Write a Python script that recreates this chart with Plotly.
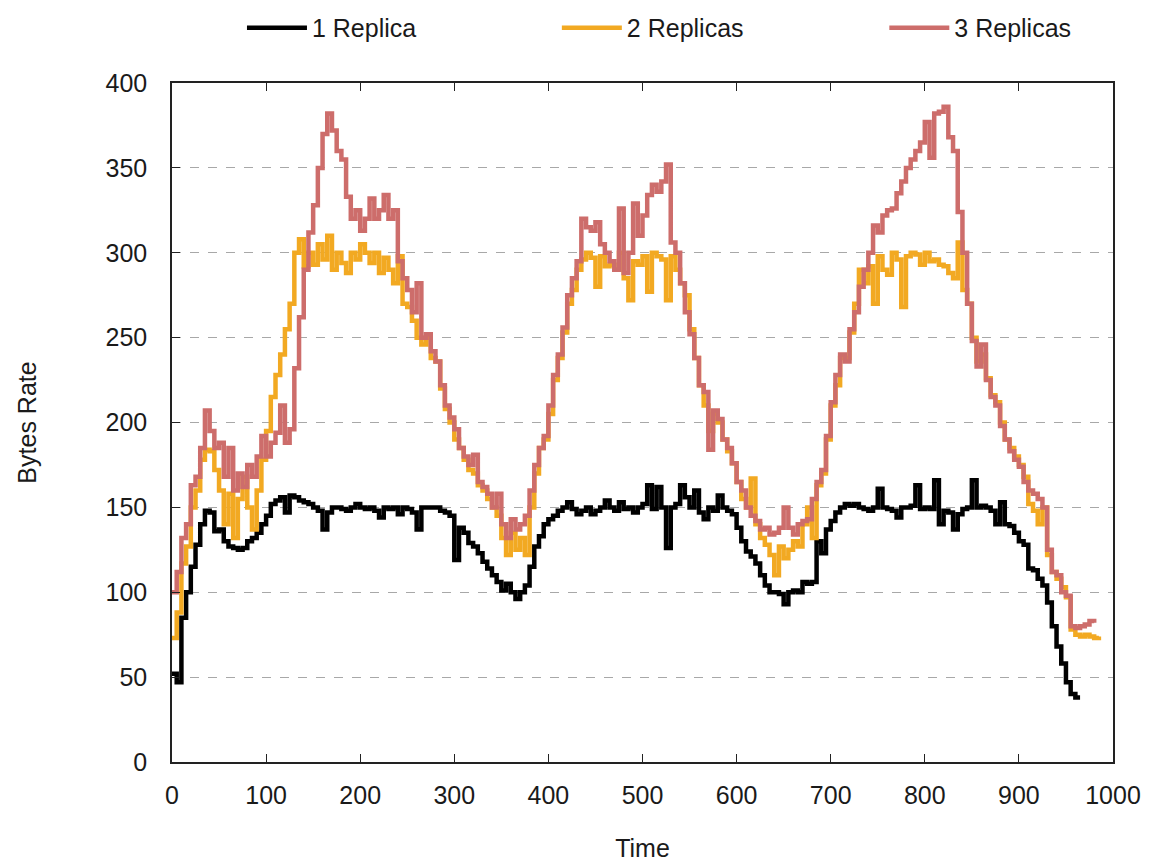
import plotly.graph_objects as go

step = 5
time_1 = list(range(0, 966, step))
replica_1 = [52, 47, 85, 100, 115, 128, 140, 148, 147, 136, 137, 130, 127, 126, 125, 126, 130, 132, 135, 140,
             145, 152, 154, 156, 147, 157, 156, 154, 153, 152, 150, 148, 137, 147, 150, 150, 149, 148, 150, 152,
             150, 149, 150, 148, 144, 150, 149, 150, 146, 150, 149, 147, 137, 150, 150, 150, 150, 148, 147, 145,
             119, 138, 135, 129, 127, 123, 118, 114, 110, 106, 101, 105, 100, 96, 100, 104, 115, 127, 133, 140,
             143, 145, 148, 150, 153, 149, 146, 148, 150, 146, 148, 150, 154, 150, 148, 153, 149, 150, 147, 150,
             152, 163, 149, 162, 150, 126, 150, 152, 163, 156, 150, 160, 147, 143, 150, 148, 157, 150, 148, 146,
             138, 130, 124, 121, 117, 110, 104, 100, 100, 99, 93, 100, 101, 100, 106, 105, 106, 130, 123, 137,
             142, 147, 150, 152, 151, 152, 150, 149, 148, 150, 161, 150, 149, 148, 144, 150, 150, 151, 163, 149,
             150, 149, 166, 140, 148, 147, 137, 146, 149, 150, 166, 150, 151, 150, 148, 140, 153, 140, 139, 135,
             130, 128, 114, 113, 108, 104, 94, 80, 68, 58, 47, 40, 38, 38]

time_2 = list(range(0, 986, step))
replica_2 = [73, 88, 117, 127, 150, 160, 178, 184, 183, 172, 160, 140, 158, 132, 155, 168, 150, 137, 160, 178,
             195, 215, 228, 240, 255, 270, 300, 308, 292, 300, 293, 305, 296, 310, 290, 300, 294, 288, 300, 296,
             305, 300, 294, 300, 288, 297, 290, 282, 298, 270, 268, 260, 250, 246, 250, 238, 236, 220, 208, 200,
             190, 185, 178, 172, 170, 163, 160, 155, 150, 145, 132, 122, 135, 125, 132, 122, 150, 170, 185, 190,
             205, 225, 238, 253, 270, 278, 290, 296, 300, 297, 280, 298, 292, 293, 290, 300, 285, 272, 295, 293,
             298, 277, 300, 298, 296, 272, 298, 290, 282, 275, 255, 238, 222, 210, 195, 205, 200, 190, 183, 176,
             165, 155, 150, 167, 140, 132, 128, 122, 110, 127, 120, 125, 130, 127, 140, 150, 132, 163, 170, 190,
             210, 222, 238, 238, 253, 270, 290, 282, 292, 270, 298, 290, 287, 300, 296, 268, 298, 300, 299, 293,
             300, 295, 296, 293, 292, 288, 285, 306, 278, 270, 250, 236, 240, 226, 216, 212, 200, 190, 185, 180,
             175, 168, 152, 148, 140, 150, 122, 112, 108, 103, 97, 78, 75, 74, 75, 74, 73, 74]

time_3 = list(range(0, 981, step))
replica_3 = [100, 112, 132, 140, 163, 168, 185, 207, 195, 185, 188, 168, 185, 160, 170, 162, 175, 168, 180, 192,
             180, 188, 194, 210, 188, 196, 232, 262, 290, 312, 328, 350, 370, 382, 372, 360, 355, 333, 320, 325,
             313, 320, 332, 320, 325, 334, 320, 325, 295, 285, 278, 265, 282, 250, 252, 242, 236, 222, 210, 203,
             196, 185, 180, 175, 181, 165, 162, 158, 150, 158, 140, 132, 143, 137, 140, 145, 160, 175, 185, 192,
             210, 228, 240, 256, 275, 285, 295, 320, 315, 313, 318, 305, 300, 295, 290, 326, 288, 300, 329, 310,
             322, 334, 340, 336, 342, 352, 306, 300, 282, 265, 252, 238, 222, 218, 184, 207, 202, 190, 185, 176,
             165, 160, 150, 145, 142, 137, 138, 134, 135, 138, 150, 138, 134, 140, 142, 143, 155, 165, 172, 192,
             212, 228, 240, 236, 255, 265, 280, 290, 300, 316, 312, 322, 325, 326, 335, 342, 350, 355, 360, 365,
             377, 356, 382, 383, 386, 368, 360, 324, 300, 270, 248, 233, 246, 225, 215, 210, 198, 190, 183, 178,
             174, 165, 160, 158, 155, 150, 125, 112, 110, 100, 98, 80, 79, 80, 81, 83, 82]

x_ticks = [0, 100, 200, 300, 400, 500, 600, 700, 800, 900, 1000]
y_ticks = [0, 50, 100, 150, 200, 250, 300, 350, 400]

FONT = "Liberation Sans, Arial, sans-serif"
FS = 25

fig = go.Figure()
fig.add_trace(go.Scatter(x=time_1, y=replica_1, name="1 Replica", mode="lines", legend="legend",
                         line=dict(color="#000000", width=4.5, shape="hv")))
fig.add_trace(go.Scatter(x=time_2, y=replica_2, name="2 Replicas", mode="lines", legend="legend2",
                         line=dict(color="#f2a922", width=4.5, shape="hv")))
fig.add_trace(go.Scatter(x=time_3, y=replica_3, name="3 Replicas", mode="lines", legend="legend3",
                         line=dict(color="#cd6d6b", width=4.5, shape="hv")))

leg_common = dict(orientation="h", xanchor="center", y=0.977, yanchor="middle", yref="container",
                  font=dict(size=FS), itemwidth=60, bgcolor="rgba(0,0,0,0)")

fig.update_layout(
    width=1158, height=868,
    paper_bgcolor="white", plot_bgcolor="white",
    margin=dict(l=164, r=53, t=75, b=114),
    font=dict(family=FONT, size=FS, color="#1a1a1a"),
    legend=dict(x=0.17, **leg_common),
    legend2=dict(x=0.511, **leg_common),
    legend3=dict(x=0.859, **leg_common),
    showlegend=True,
)
fig.update_xaxes(range=[0, 1000], tickvals=x_ticks, showgrid=False, zeroline=False,
                 showline=True, linecolor="#222", linewidth=1.5, mirror="ticks",
                 ticks="inside", ticklen=8, tickcolor="#222", ticklabelstandoff=10,
                 automargin=False,
                 title=dict(text="Time", font=dict(size=FS), standoff=32))
fig.update_yaxes(range=[0, 400], tickvals=y_ticks, showgrid=True, gridcolor="#a8a8a8",
                 griddash="dash", gridwidth=1, zeroline=False,
                 showline=True, linecolor="#222", linewidth=1.5, mirror=True,
                 ticks="inside", ticklen=8, tickcolor="#222", ticklabelstandoff=18,
                 automargin=False,
                 title=dict(text="Bytes Rate", font=dict(size=FS), standoff=62))

fig.write_html("out.html")
